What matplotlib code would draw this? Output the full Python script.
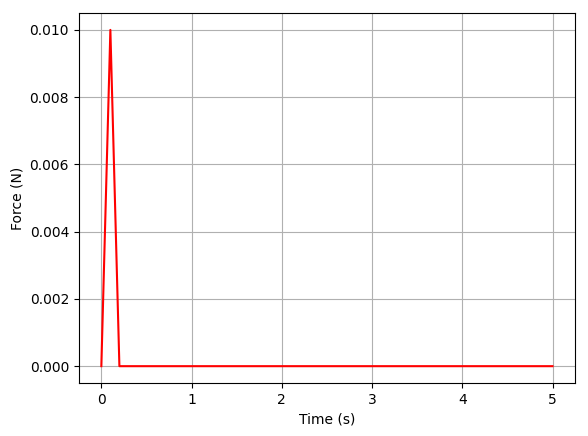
import matplotlib
matplotlib.use("Agg")
import matplotlib.pyplot as plt

time_s = [0.0, 0.1, 0.2, 5.0]
force_n = [0.0, 0.01, 0.0, 0.0]

fig = plt.figure(figsize=(5.88, 4.36), dpi=100)
ax = fig.add_axes([0.134, 0.1216, 0.844, 0.8484])
ax.plot(time_s, force_n, color='red', linewidth=1.5)
ax.set_xlabel('Time (s)')
ax.set_ylabel('Force (N)')
ax.grid(True)
ax.yaxis.set_major_formatter(matplotlib.ticker.FormatStrFormatter('%.3f'))
fig.savefig('out.png', dpi=100)
